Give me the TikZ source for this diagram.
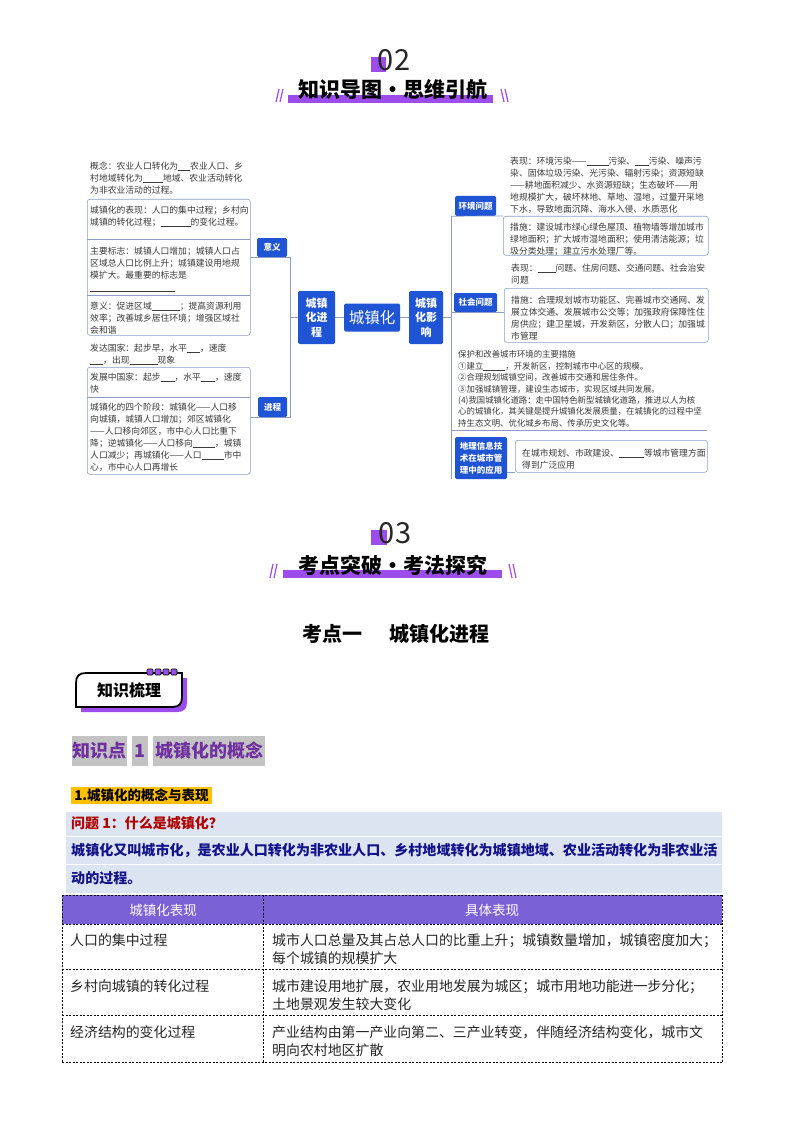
\documentclass[tikz,border=0pt]{standalone}
\usepackage{fontspec}
\setmainfont{Noto Sans CJK SC}
\definecolor{mmblue}{HTML}{1F54D4}
\definecolor{mmline}{HTML}{8F9DC6}
\definecolor{txtgray}{HTML}{3A3A3A}
\definecolor{hpurple}{HTML}{9B4CEB}
\definecolor{thpurple}{HTML}{7B61D6}
\definecolor{lblue}{HTML}{DCE4F2}
\definecolor{navy}{HTML}{12128A}
\definecolor{dred}{HTML}{B00000}
\definecolor{korange}{HTML}{FFC000}
\definecolor{kgray}{HTML}{C3C3C3}
\definecolor{kpurple}{HTML}{7030A0}
\newcommand\fs[2]{\fontsize{#1}{#2}\selectfont}
\newcommand\blk[1]{\rule[-1.5pt]{#1pt}{0.5pt}}
\tikzset{
  mmtxt/.style={anchor=north west, inner sep=0pt, align=left, font=\fs{8.8}{12}, text=txtgray},
  mmtxtb/.style={anchor=north west, inner sep=0pt, align=left, font=\fs{8.4}{11.4}, text=txtgray},
  mmframe/.style={draw=mmline, line width=0.6pt, rounded corners=2.5pt, inner sep=0pt},
  mmconn/.style={draw=mmline, line width=0.7pt},
  mmbox/.style={fill=mmblue, rounded corners=1.5pt, text=white, inner sep=0pt, align=center},
  mmsmall/.style={mmbox, font=\bfseries\fs{8.5}{10}},
  mmmid/.style={mmbox, font=\bfseries\fs{11}{14.5}, minimum width=37pt, minimum height=53pt},
  slash/.style={hpurple, line width=1.2pt},
  hbar/.style={fill=hpurple},
  htitle/.style={font=\bfseries\fs{21}{21}, text=black, inner sep=0pt},
  hnum/.style={font=\fs{29}{29}, text=black!85, inner sep=0pt},
  dline/.style={draw=black, line width=0.5pt, dash pattern=on 2pt off 1.5pt},
  celltxt/.style={anchor=west, inner sep=0pt, align=left, font=\fs{13.9}{18}, text=black!85},
}
\begin{document}
\begin{tikzpicture}[x=1pt,y=-1pt]
\useasboundingbox (0,0) rectangle (794,1123);
\fill[white] (0,0) rectangle (794,1123);

% ===== header 02 =====
\fill[hpurple] (371,57) rectangle (386,72);
\node[hnum] (n02) at (394,60) {02};
\fill[hbar] (288,95) rectangle (493,103);
\node[htitle] (t02) at (393,90) {知识导图•思维引航};
\draw[slash] (276,102)--(279,89) (280,102)--(283,89);
\draw[slash] (501,89)--(504,102) (505,89)--(508,102);

% ===== mind map: centre =====
\node[mmmid] (cjh) at (316.5,317.5) {城镇\\化进\\程};
\node[mmbox, font=\fs{15.5}{15.5}, minimum width=56pt, minimum height=28pt] (czh) at (372,317.5) {城镇化};
\node[mmmid, minimum width=34pt] (cyx) at (426,317.5) {城镇\\化影\\响};
\draw[mmconn] (cjh) -- (czh);
\draw[mmconn] (czh) -- (cyx);

% ===== left side =====
\node[mmframe, anchor=north west, minimum width=163pt, minimum height=136pt] (fA) at (87,199) {};
\draw[mmline, line width=0.6pt] (87,239) -- (250,239) (87,295.5) -- (250,295.5);
\node[mmframe, anchor=north west, minimum width=163pt, minimum height=107pt] (fB) at (87,367) {};
\draw[mmline, line width=0.6pt] (87,397) -- (250,397);

\node[mmsmall, minimum width=30pt, minimum height=19pt] (yiyi) at (272,247.5) {意义};
\node[mmsmall, minimum width=29pt, minimum height=20pt] (jc) at (272.5,407) {进程};
\coordinate (bL) at (290,317.5);
\draw[mmconn] (fA.east |- yiyi.south) -- (yiyi.south -| bL) -- (jc.south -| bL) -- (fB.east |- jc.south);
\draw[mmconn] (bL) -- (cjh.west);

\node[mmtxt] (t1) at (90,161.5) {概念：农业人口转化为\blk{12}农业人口、乡\\村地域转化为\blk{20}地域、农业活动转化\\为非农业活动的过程。};
\node[mmtxt] (t2) at (90,205.5) {城镇化的表现：人口的集中过程；乡村向\\城镇的转化过程；\blk{30}的变化过程。};
\node[mmtxt] (t3) at (90,246.5) {主要标志：城镇人口增加；城镇人口占\\区域总人口比例上升；城镇建设用地规\\模扩大。最重要的标志是\\\blk{85}};
\node[mmtxt] (t4) at (90,301.5) {意义：促进区域\blk{28}；提高资源利用\\效率；改善城乡居住环境；增强区域社\\会和谐};
\node[mmtxt] (t5) at (90,343.5) {发达国家：起步早，水平\blk{13}，速度\\\blk{13}，出现\blk{28}现象};
\node[mmtxt] (t6) at (90,372.5) {发展中国家：起步\blk{14}，水平\blk{14}，速度\\快};
\node[mmtxt] (t7) at (90,402.5) {城镇化的四个阶段：城镇化——人口移\\向城镇，城镇人口增加；郊区城镇化\\——人口移向郊区，市中心人口比重下\\降；逆城镇化——人口移向\blk{22}，城镇\\人口减少；再城镇化——人口\blk{22}市中\\心，市中心人口再增长};

% ===== right side =====
\node[mmframe, anchor=north west, minimum width=205pt, minimum height=39pt] (fE) at (503,216) {};
\node[mmframe, anchor=north west, minimum width=204pt, minimum height=54pt] (fS) at (504,288) {};
\node[mmframe, anchor=north west, minimum width=192pt, minimum height=32pt] (fG) at (515,440) {};

\node[mmsmall, minimum width=41pt, minimum height=20pt] (hj) at (475.5,206) {环境问题};
\node[mmsmall, minimum width=43pt, minimum height=19pt] (sh) at (475.5,302.5) {社会问题};
\node[mmbox, font=\bfseries\fs{8.5}{12}, minimum width=52pt, minimum height=42pt] (gis) at (481,458) {地理信息技\\术在城市管\\理中的应用};
\coordinate (bR) at (451,317.5);
\coordinate (gR) at (707,430);
\draw[mmconn] (cyx.east) -- (bR);
\draw[mmconn] (bR |- hj.south) -- (bR |- gis.south);
\draw[mmconn] (bR |- hj.south) -- (fE.north west);
\draw[mmconn] (bR |- sh.south) -- (fS.west |- sh.south);
\draw[mmconn] (bR |- gR) -- (gR);
\draw[mmconn] (gis.east |- fG.south) -- (fG.south west);

\node[mmtxt] (r1) at (510,156.5) {表现：环境污染——\blk{22}污染、\blk{14}污染、噪声污\\染、固体垃圾污染、光污染、辐射污染；资源短缺\\——耕地面积减少、水资源短缺；生态破坏——用\\地规模扩大，破坏林地、草地、湿地，过量开采地\\下水，导致地面沉降、海水入侵、水质恶化};
\node[mmtxt] (r2) at (510,222.5) {措施：建设城市绿心绿色屋顶、植物墙等增加城市\\绿地面积；扩大城市湿地面积；使用清洁能源；垃\\圾分类处理；建立污水处理厂等。};
\node[mmtxt] (r3) at (511,263.5) {表现：\blk{18}问题、住房问题、交通问题、社会治安\\问题};
\node[mmtxt] (r4) at (511,295.5) {措施：合理规划城市功能区、完善城市交通网、发\\展立体交通、发展城市公交等；加强政府保障性住\\房供应；建卫星城，开发新区，分散人口；加强城\\市管理};
\node[mmtxtb] (r5) at (458,350.5) {保护和改善城市环境的主要措施\\①建立\blk{22}，开发新区，控制城市中心区的规模。\\②合理规划城镇空间，改善城市交通和居住条件。\\③加强城镇管理，建设生态城市，实现区域共同发展。\\(4)我国城镇化道路：走中国特色新型城镇化道路，推进以人为核\\心的城镇化，其关键是提升城镇化发展质量，在城镇化的过程中坚\\持生态文明、优化城乡布局、传承历史文化等。};
\node[mmtxt] (r6) at (522,448.5) {在城市规划、市政建设、\blk{25}等城市管理方面\\得到广泛应用};

% ===== header 03 =====
\fill[hpurple] (371,530) rectangle (387,545);
\node[hnum] (n03) at (395,533) {03};
\fill[hbar] (283,570) rectangle (502,578);
\node[htitle] (t03) at (393,565) {考点突破•考法探究};
\draw[slash] (270,578)--(273,564) (274,578)--(277,564);
\draw[slash] (509,564)--(512,578) (513,564)--(516,578);

\node[font=\bfseries\fs{20}{20}, inner sep=0pt] (kd) at (396,634) {考点一\hspace{27pt}城镇化进程};

% ===== badge =====
\fill[hpurple] (81,712) -- (81,688) .. controls (81,681) and (84,678) .. (91,678) -- (187,678) -- (187,702) .. controls (187,709) and (184,712) .. (177,712) -- cycle;
\draw[black, line width=1.8pt, fill=white] (76,707) -- (76,683) .. controls (76,676) and (79,673) .. (86,673) -- (182,673) -- (182,697) .. controls (182,704) and (179,707) .. (172,707) -- cycle;
\foreach \i in {0,1,2,3} \draw[black, line width=0.9pt, fill=hpurple, rounded corners=1pt] (147+\i*8,669) rectangle +(6,6);
\node[font=\bfseries\fs{16}{16}, inner sep=0pt] (zs) at (129,690) {知识梳理};

% ===== knowledge point =====
\fill[kgray] (72,736) rectangle (127,766);
\fill[kgray] (132,736) rectangle (148,766);
\fill[kgray] (153,736) rectangle (265,766);
\node[font=\bfseries\fs{18}{18}, text=kpurple, inner sep=0pt] (k1) at (99.5,751) {知识点};
\node[font=\bfseries\fs{18}{18}, text=kpurple, inner sep=0pt] (k2) at (140,751) {1};
\node[font=\bfseries\fs{18}{18}, text=kpurple, inner sep=0pt] (k3) at (209,751) {城镇化的概念};

\fill[korange] (71,787) rectangle (212,804);
\node[font=\bfseries\fs{13.5}{14}, inner sep=0pt] (s1) at (141.5,795.5) {1.城镇化的概念与表现};

\fill[lblue] (66,812) rectangle (722,893);
\draw[white, line width=1pt] (66,836) -- (722,836) (66,864) -- (722,864);
\node[anchor=west, font=\bfseries\fs{14}{14}, text=dred, inner sep=0pt] (q1) at (71,823) {问题 1：什么是城镇化？};
\node[anchor=west, font=\bfseries\fs{14.05}{14}, text=navy, inner sep=0pt] (a1) at (71,850) {城镇化又叫城市化，是农业人口转化为非农业人口、乡村地域转化为城镇地域、农业活动转化为非农业活};
\node[anchor=west, font=\bfseries\fs{14.05}{14}, text=navy, inner sep=0pt] (a2) at (71,878) {动的过程。};

% ===== table =====
\fill[thpurple] (62,895) rectangle (722,924);
\draw[dline] (62,895) -- (722,895) (62,924) -- (722,924) (62,969) -- (722,969) (62,1015) -- (722,1015) (62,1062) -- (722,1062);
\draw[dline] (62,895) -- (62,1062) (263,895) -- (263,1062) (722,895) -- (722,1062);
\node[font=\fs{13.5}{14}, text=white, inner sep=0pt] (h1) at (163,910) {城镇化表现};
\node[font=\fs{13.5}{14}, text=white, inner sep=0pt] (h2) at (492,910) {具体表现};
\node[celltxt] (c11) at (70,940) {人口的集中过程};
\node[celltxt, anchor=north west] (c12) at (272,933) {城市人口总量及其占总人口的比重上升；城镇数量增加，城镇密度加大；\\每个城镇的规模扩大};
\node[celltxt] (c21) at (70,986) {乡村向城镇的转化过程};
\node[celltxt, anchor=north west] (c22) at (272,979) {城市建设用地扩展，农业用地发展为城区；城市用地功能进一步分化；\\土地景观发生较大变化};
\node[celltxt] (c31) at (70,1032) {经济结构的变化过程};
\node[celltxt, anchor=north west] (c32) at (272,1025) {产业结构由第一产业向第二、三产业转变，伴随经济结构变化，城市文\\明向农村地区扩散};
\end{tikzpicture}
\end{document}
